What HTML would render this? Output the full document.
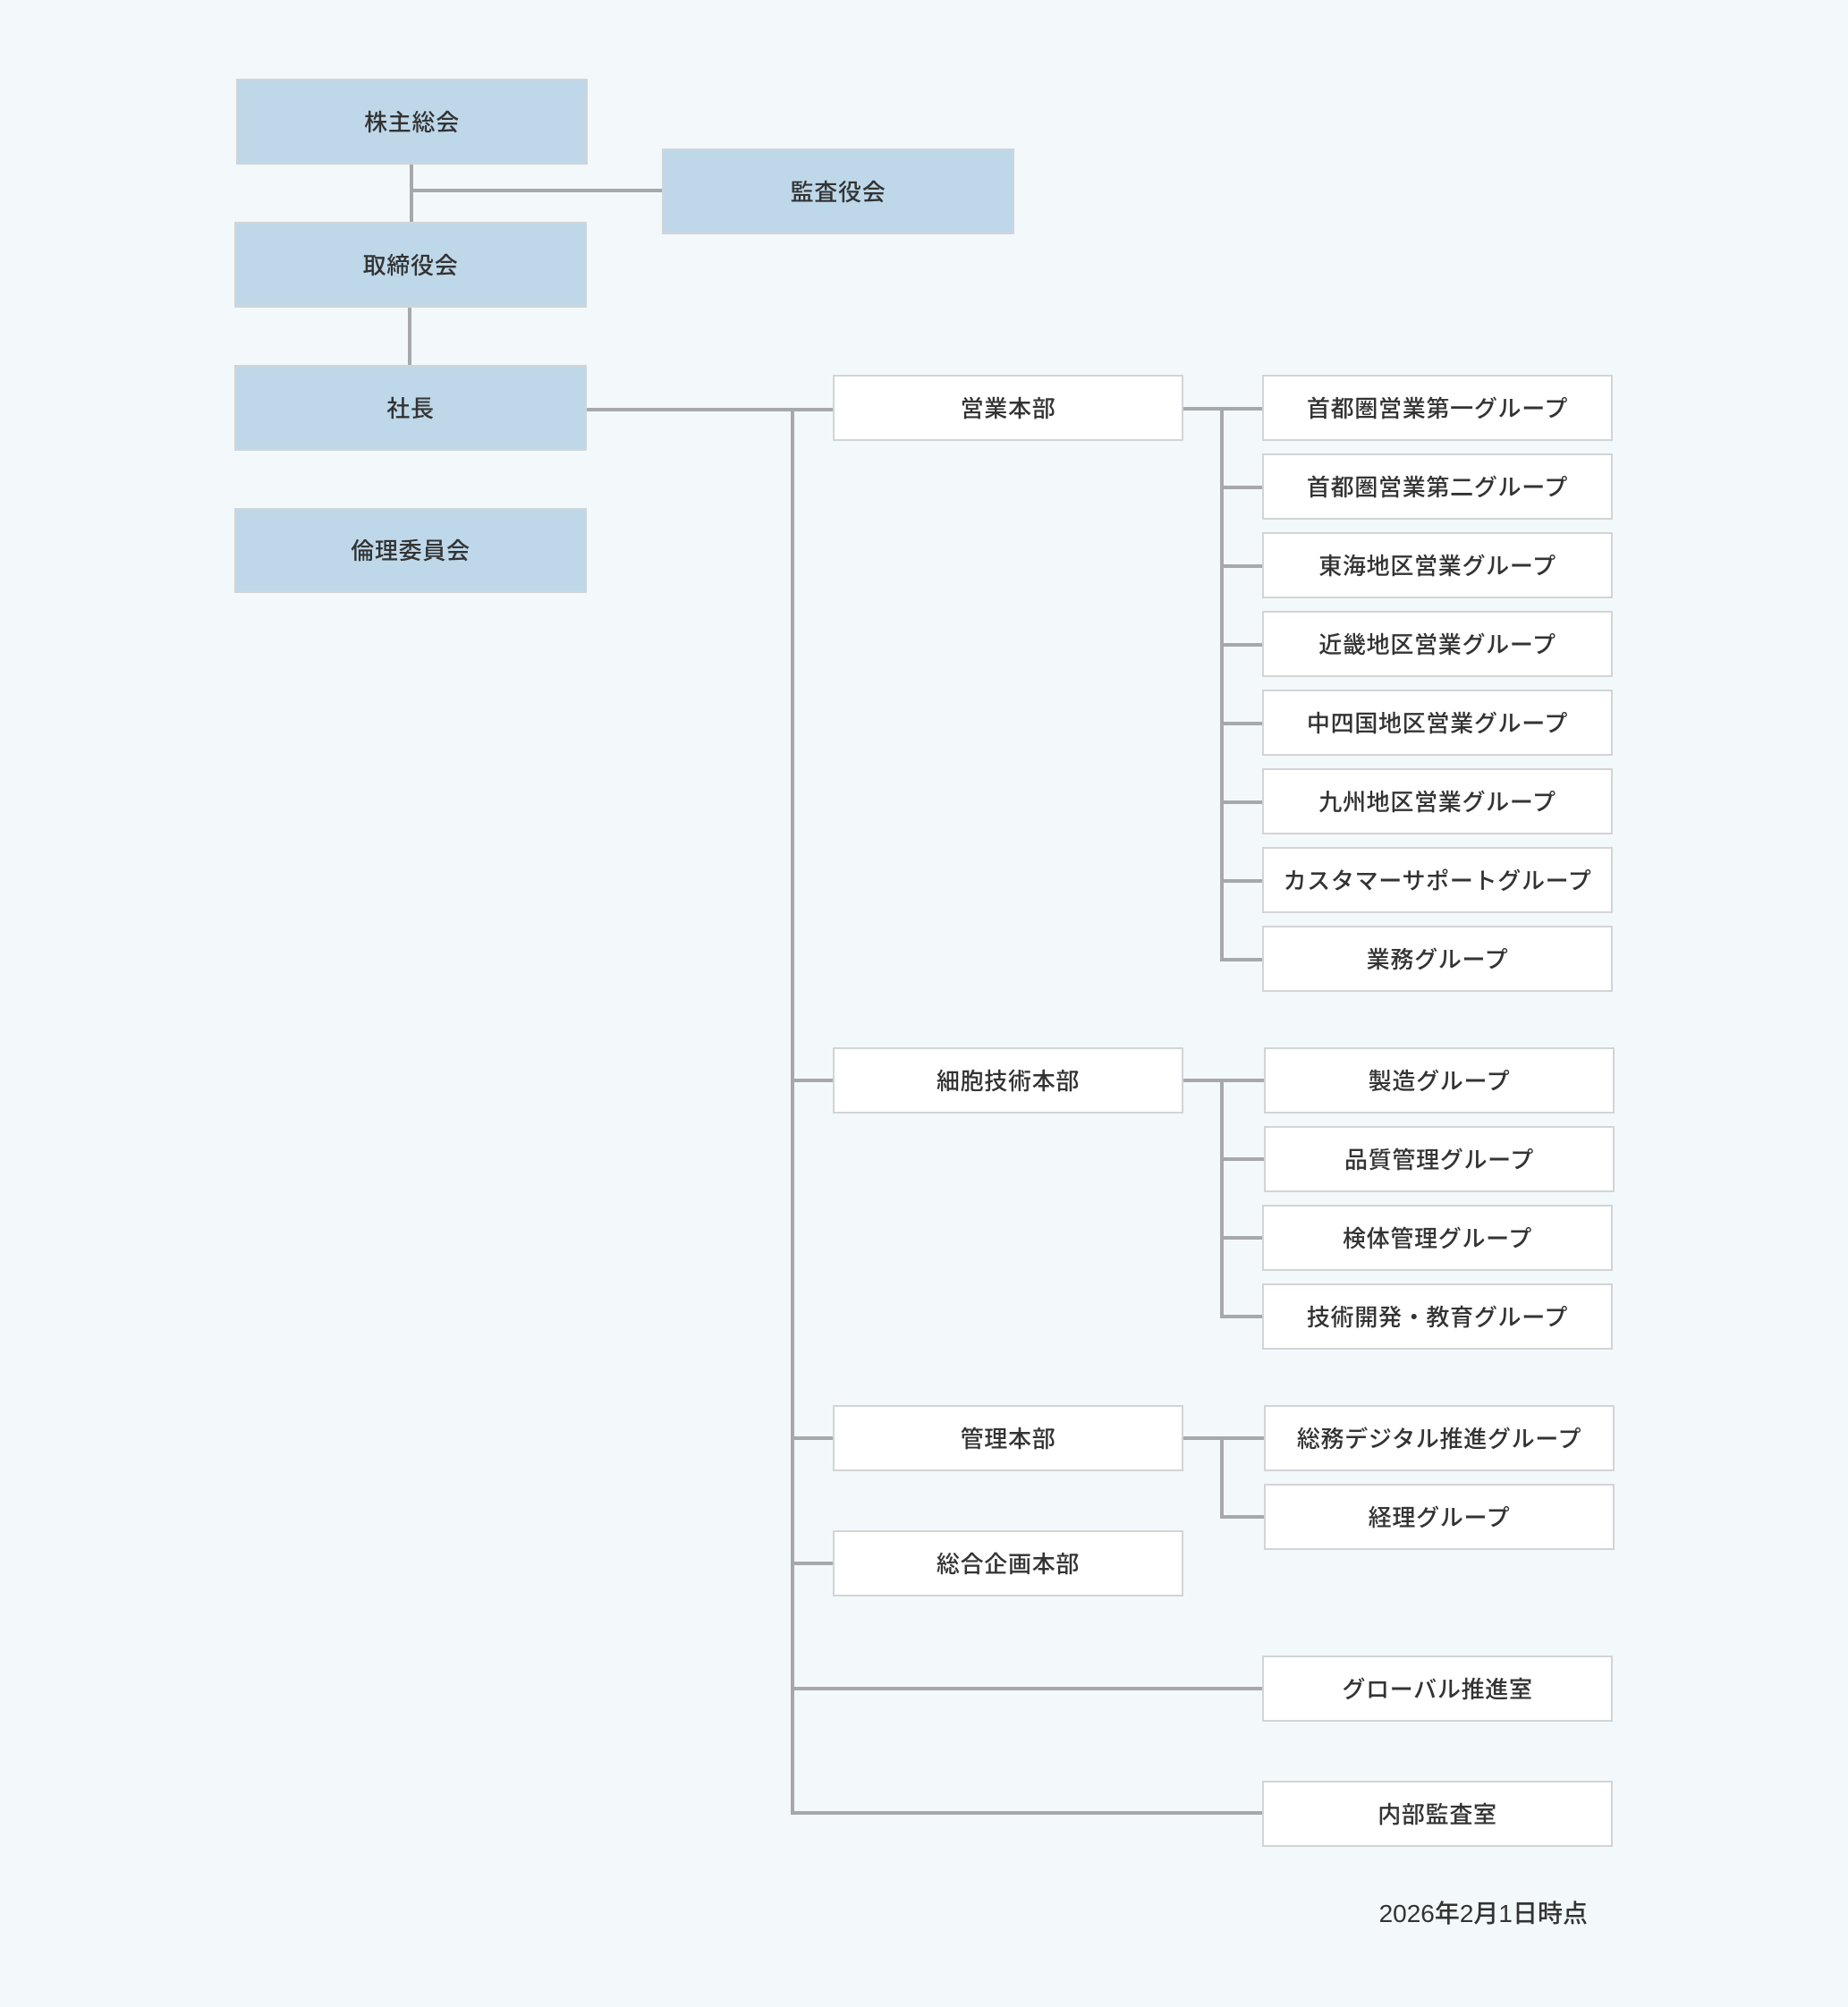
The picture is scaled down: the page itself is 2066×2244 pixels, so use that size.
<!DOCTYPE html>
<html>
<head>
<meta charset="utf-8">
<style>
  html, body { margin:0; padding:0; }
  body { width:2066px; height:2244px; background:#f3f8fb; position:relative; overflow:hidden;
         font-family:"Liberation Sans","Noto Sans CJK JP",sans-serif; }
  .b { position:absolute; box-sizing:border-box; border:2px solid #d2d4d7; background:#ffffff;
       display:flex; align-items:center; justify-content:center; color:#333; padding-bottom:2px;
       font-size:26px; font-weight:500; letter-spacing:0.7px; white-space:nowrap; }
  .blue { background:#bed8ea; }
  .m { width:392px; height:74px; }
  .r { width:392px; height:74px; }
  .k { width:394px; height:96px; }
  .l { position:absolute; background:#a6a8ab; }
  .date { position:absolute; right:291px; top:2118px; font-size:28px; letter-spacing:0px; color:#333;
          font-weight:500; white-space:nowrap; }
</style>
</head>
<body>
<!-- top blue boxes -->
<div class="b blue k" style="left:264px;top:88px;width:393px;">株主総会</div>
<div class="b blue k" style="left:740px;top:166px;">監査役会</div>
<div class="b blue k" style="left:262px;top:248px;">取締役会</div>
<div class="b blue k" style="left:262px;top:408px;">社長</div>
<div class="b blue k" style="left:262px;top:568px;height:95px;">倫理委員会</div>

<!-- top connectors -->
<div class="l" style="left:458px;top:184px;width:4px;height:64px;"></div>
<div class="l" style="left:460px;top:211px;width:280px;height:4px;"></div>
<div class="l" style="left:456px;top:344px;width:4px;height:64px;"></div>
<div class="l" style="left:656px;top:456px;width:275px;height:4px;"></div>

<!-- main vertical -->
<div class="l" style="left:884px;top:456px;width:4px;height:1573px;"></div>

<!-- branches from main -->
<div class="l" style="left:884px;top:1206px;width:47px;height:4px;"></div>
<div class="l" style="left:884px;top:1606px;width:47px;height:4px;"></div>
<div class="l" style="left:884px;top:1746px;width:47px;height:4px;"></div>
<div class="l" style="left:884px;top:1886px;width:527px;height:4px;"></div>
<div class="l" style="left:884px;top:2025px;width:527px;height:4px;"></div>

<!-- mid boxes -->
<div class="b m" style="left:931px;top:419px;">営業本部</div>
<div class="b m" style="left:931px;top:1171px;">細胞技術本部</div>
<div class="b m" style="left:931px;top:1571px;">管理本部</div>
<div class="b m" style="left:931px;top:1711px;">総合企画本部</div>

<!-- 営業 subtree -->
<div class="l" style="left:1323px;top:455px;width:88px;height:4px;"></div>
<div class="l" style="left:1364px;top:455px;width:4px;height:620px;"></div>
<div class="l" style="left:1364px;top:543px;width:47px;height:4px;"></div>
<div class="l" style="left:1364px;top:631px;width:47px;height:4px;"></div>
<div class="l" style="left:1364px;top:719px;width:47px;height:4px;"></div>
<div class="l" style="left:1364px;top:807px;width:47px;height:4px;"></div>
<div class="l" style="left:1364px;top:895px;width:47px;height:4px;"></div>
<div class="l" style="left:1364px;top:983px;width:47px;height:4px;"></div>
<div class="l" style="left:1364px;top:1071px;width:47px;height:4px;"></div>

<div class="b r" style="left:1411px;top:419px;">首都圏営業第一グループ</div>
<div class="b r" style="left:1411px;top:507px;">首都圏営業第二グループ</div>
<div class="b r" style="left:1411px;top:595px;">東海地区営業グループ</div>
<div class="b r" style="left:1411px;top:683px;">近畿地区営業グループ</div>
<div class="b r" style="left:1411px;top:771px;">中四国地区営業グループ</div>
<div class="b r" style="left:1411px;top:859px;">九州地区営業グループ</div>
<div class="b r" style="left:1411px;top:947px;">カスタマーサポートグループ</div>
<div class="b r" style="left:1411px;top:1035px;">業務グループ</div>

<!-- 細胞 subtree -->
<div class="l" style="left:1323px;top:1206px;width:90px;height:4px;"></div>
<div class="l" style="left:1364px;top:1206px;width:4px;height:268px;"></div>
<div class="l" style="left:1364px;top:1294px;width:49px;height:4px;"></div>
<div class="l" style="left:1364px;top:1382px;width:47px;height:4px;"></div>
<div class="l" style="left:1364px;top:1470px;width:47px;height:4px;"></div>

<div class="b r" style="left:1413px;top:1171px;">製造グループ</div>
<div class="b r" style="left:1413px;top:1259px;">品質管理グループ</div>
<div class="b r" style="left:1411px;top:1347px;">検体管理グループ</div>
<div class="b r" style="left:1411px;top:1435px;">技術開発・教育グループ</div>

<!-- 管理 subtree -->
<div class="l" style="left:1323px;top:1606px;width:90px;height:4px;"></div>
<div class="l" style="left:1364px;top:1606px;width:4px;height:92px;"></div>
<div class="l" style="left:1364px;top:1694px;width:49px;height:4px;"></div>

<div class="b r" style="left:1413px;top:1571px;">総務デジタル推進グループ</div>
<div class="b r" style="left:1413px;top:1659px;">経理グループ</div>

<!-- direct offices -->
<div class="b r" style="left:1411px;top:1851px;">グローバル推進室</div>
<div class="b r" style="left:1411px;top:1991px;">内部監査室</div>

<div class="date">2026年2月1日時点</div>
</body>
</html>
